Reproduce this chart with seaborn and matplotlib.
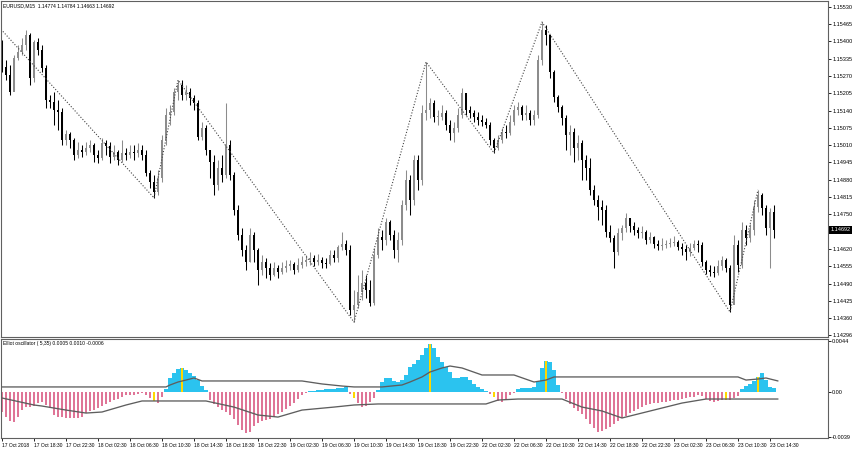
import numpy as np
import matplotlib
matplotlib.use('Agg')
import matplotlib.pyplot as plt
import matplotlib.transforms as mtransforms
import seaborn as sns

# EURUSD M15, drawn as 30-minute candles (open = previous close)
first_open = 1.15394
closes = [
    1.15304, 1.15274, 1.15210, 1.15338, 1.15360, 1.15387, 1.15424, 1.15263, 1.15398, 1.15368,
    1.15300, 1.15180, 1.15172, 1.15142, 1.15135, 1.15030, 1.15052, 1.15030, 1.14973, 1.14992,
    1.14984, 1.14999, 1.15011, 1.14973, 1.14962, 1.15018, 1.15007, 1.14966, 1.14984, 1.14954,
    1.14981, 1.14973, 1.14984, 1.14981, 1.14992, 1.14973, 1.14905, 1.14872, 1.14834, 1.14887,
    1.15030, 1.15124, 1.15135, 1.15210, 1.15236, 1.15199, 1.15210, 1.15188, 1.15169, 1.15041,
    1.15075, 1.14992, 1.14947, 1.14860, 1.14924, 1.14898, 1.15011, 1.14898, 1.14766, 1.14672,
    1.14616, 1.14571, 1.14672, 1.14616, 1.14541, 1.14571, 1.14548, 1.14522, 1.14548, 1.14533,
    1.14548, 1.14556, 1.14563, 1.14541, 1.14560, 1.14571, 1.14578, 1.14586, 1.14571, 1.14578,
    1.14567, 1.14563, 1.14597, 1.14586, 1.14627, 1.14639, 1.14616, 1.14390, 1.14409, 1.14458,
    1.14492, 1.14466, 1.14417, 1.14597, 1.14665, 1.14654, 1.14721, 1.14672, 1.14616, 1.14654,
    1.14785, 1.14879, 1.14804, 1.14954, 1.14879, 1.15131, 1.15142, 1.15169, 1.15116, 1.15116,
    1.15131, 1.15086, 1.15056, 1.15075, 1.15124, 1.15206, 1.15142, 1.15131, 1.15116, 1.15105,
    1.15097, 1.15086, 1.15030, 1.14999, 1.15030, 1.15060, 1.15056, 1.15097, 1.15142, 1.15154,
    1.15124, 1.15131, 1.15105, 1.15124, 1.15330, 1.15443, 1.15424, 1.15285, 1.15191, 1.15154,
    1.15112, 1.15048, 1.15060, 1.14999, 1.15018, 1.14954, 1.14924, 1.14842, 1.14804, 1.14778,
    1.14766, 1.14684, 1.14661, 1.14609, 1.14680, 1.14699, 1.14736, 1.14706, 1.14691, 1.14680,
    1.14684, 1.14654, 1.14665, 1.14639, 1.14631, 1.14635, 1.14639, 1.14642, 1.14646, 1.14627,
    1.14620, 1.14609, 1.14624, 1.14639, 1.14635, 1.14571, 1.14541, 1.14533, 1.14530, 1.14556,
    1.14578, 1.14548, 1.14409, 1.14635, 1.14560, 1.14691, 1.14661, 1.14691, 1.14778, 1.14823,
    1.14774, 1.14699, 1.14759, 1.14692,
]
highs = [
    1.15406, 1.15330, 1.15312, 1.15349, 1.15387, 1.15413, 1.15443, 1.15432, 1.15406, 1.15413,
    1.15387, 1.15312, 1.15199, 1.15210, 1.15180, 1.15150, 1.15067, 1.15060, 1.15037, 1.15022,
    1.15011, 1.15022, 1.15030, 1.15018, 1.14992, 1.15037, 1.15030, 1.15022, 1.15011, 1.14992,
    1.15030, 1.14999, 1.15011, 1.15011, 1.15018, 1.15011, 1.14992, 1.14917, 1.14898, 1.14917,
    1.15048, 1.15150, 1.15161, 1.15225, 1.15255, 1.15255, 1.15236, 1.15225, 1.15199, 1.15180,
    1.15097, 1.15086, 1.14992, 1.14973, 1.14954, 1.14973, 1.15169, 1.15030, 1.14909, 1.14785,
    1.14699, 1.14635, 1.14699, 1.14684, 1.14624, 1.14597, 1.14586, 1.14567, 1.14571, 1.14560,
    1.14571, 1.14578, 1.14578, 1.14571, 1.14586, 1.14593, 1.14597, 1.14609, 1.14597, 1.14601,
    1.14590, 1.14586, 1.14616, 1.14616, 1.14635, 1.14684, 1.14654, 1.14635, 1.14466, 1.14522,
    1.14541, 1.14522, 1.14503, 1.14624, 1.14699, 1.14691, 1.14736, 1.14729, 1.14691, 1.14684,
    1.14804, 1.14917, 1.14898, 1.14973, 1.14973, 1.15161, 1.15323, 1.15188, 1.15180, 1.15142,
    1.15161, 1.15142, 1.15105, 1.15097, 1.15150, 1.15225, 1.15199, 1.15157, 1.15142, 1.15135,
    1.15124, 1.15112, 1.15097, 1.15037, 1.15048, 1.15075, 1.15086, 1.15124, 1.15161, 1.15172,
    1.15161, 1.15161, 1.15142, 1.15142, 1.15349, 1.15473, 1.15462, 1.15424, 1.15293, 1.15199,
    1.15161, 1.15124, 1.15086, 1.15075, 1.15048, 1.15030, 1.14973, 1.14962, 1.14860, 1.14823,
    1.14804, 1.14785, 1.14710, 1.14672, 1.14699, 1.14710, 1.14755, 1.14736, 1.14721, 1.14703,
    1.14706, 1.14691, 1.14684, 1.14669, 1.14654, 1.14661, 1.14654, 1.14661, 1.14669, 1.14654,
    1.14642, 1.14635, 1.14642, 1.14654, 1.14654, 1.14646, 1.14578, 1.14560, 1.14556, 1.14578,
    1.14593, 1.14586, 1.14560, 1.14672, 1.14654, 1.14721, 1.14710, 1.14714, 1.14804, 1.14842,
    1.14830, 1.14785, 1.14774, 1.14784,
]
lows = [
    1.15285, 1.15255, 1.15199, 1.15218, 1.15330, 1.15349, 1.15368, 1.15236, 1.15248, 1.15349,
    1.15285, 1.15150, 1.15150, 1.15086, 1.15067, 1.15011, 1.15011, 1.14999, 1.14954, 1.14962,
    1.14966, 1.14973, 1.14984, 1.14947, 1.14943, 1.14954, 1.14973, 1.14943, 1.14954, 1.14936,
    1.14947, 1.14954, 1.14962, 1.14954, 1.14966, 1.14954, 1.14894, 1.14849, 1.14812, 1.14823,
    1.14872, 1.15011, 1.15086, 1.15124, 1.15180, 1.15180, 1.15180, 1.15161, 1.15142, 1.15030,
    1.15030, 1.14973, 1.14887, 1.14823, 1.14842, 1.14872, 1.14887, 1.14879, 1.14748, 1.14654,
    1.14593, 1.14541, 1.14571, 1.14571, 1.14484, 1.14522, 1.14511, 1.14503, 1.14518, 1.14511,
    1.14526, 1.14533, 1.14541, 1.14526, 1.14533, 1.14548, 1.14556, 1.14560, 1.14556, 1.14560,
    1.14548, 1.14548, 1.14560, 1.14571, 1.14571, 1.14616, 1.14597, 1.14372, 1.14345, 1.14398,
    1.14428, 1.14435, 1.14405, 1.14409, 1.14586, 1.14616, 1.14635, 1.14654, 1.14586, 1.14571,
    1.14635, 1.14766, 1.14748, 1.14785, 1.14842, 1.14860, 1.15105, 1.15112, 1.15097, 1.15086,
    1.15105, 1.15067, 1.15030, 1.15022, 1.15060, 1.15112, 1.15124, 1.15112, 1.15097, 1.15086,
    1.15082, 1.15075, 1.15011, 1.14981, 1.14992, 1.15018, 1.15037, 1.15048, 1.15086, 1.15124,
    1.15105, 1.15105, 1.15086, 1.15086, 1.15112, 1.15312, 1.15387, 1.15263, 1.15172, 1.15135,
    1.15086, 1.14992, 1.14973, 1.14947, 1.14954, 1.14879, 1.14879, 1.14823, 1.14785, 1.14729,
    1.14710, 1.14665, 1.14646, 1.14548, 1.14597, 1.14654, 1.14684, 1.14684, 1.14672, 1.14661,
    1.14661, 1.14639, 1.14642, 1.14624, 1.14616, 1.14616, 1.14624, 1.14627, 1.14631, 1.14616,
    1.14597, 1.14578, 1.14593, 1.14616, 1.14609, 1.14556, 1.14526, 1.14518, 1.14514, 1.14522,
    1.14541, 1.14533, 1.14383, 1.14466, 1.14533, 1.14548, 1.14635, 1.14646, 1.14672, 1.14759,
    1.14748, 1.14672, 1.14548, 1.14663,
]

# zigzag pivots (candle index, price)
zz_idx = [-1, 38, 44, 88, 106, 123, 135, 182, 189]
zz_price = [1.15458, 1.14812, 1.15255, 1.14345, 1.15323, 1.14981, 1.15473, 1.14383, 1.14842]

# Elliot oscillator (5,35) histogram
osc = [
    -0.00174, -0.00218, -0.00252, -0.00261, -0.00218, -0.00157, -0.00131, -0.00131, -0.00122, -0.00096,
    -0.00087, -0.00113, -0.00139, -0.00200, -0.00218, -0.00218, -0.00226, -0.00226, -0.00226, -0.00226,
    -0.00218, -0.00183, -0.00165, -0.00157, -0.00139, -0.00122, -0.00104, -0.00087, -0.00070, -0.00061,
    -0.00044, -0.00026, -0.00026, -0.00026, -0.00017, -0.00009, -0.00026, -0.00052, -0.00078, -0.00096,
    -0.00044, 0.00026, 0.00122, 0.00165, 0.00200, 0.00209, 0.00191, 0.00165, 0.00139, 0.00104,
    0.00052, 0.00017, -0.00070, -0.00104, -0.00131, -0.00157, -0.00174, -0.00200, -0.00235, -0.00287,
    -0.00331, -0.00357, -0.00348, -0.00296, -0.00270, -0.00252, -0.00244, -0.00235, -0.00218, -0.00191,
    -0.00174, -0.00148, -0.00122, -0.00096, -0.00061, -0.00026, -0.00009, 0.00009, 0.00009, 0.00017,
    0.00017, 0.00026, 0.00026, 0.00026, 0.00035, 0.00035, 0.00044, -0.00017, -0.00052, -0.00096,
    -0.00131, -0.00122, -0.00087, -0.00052, 0.00017, 0.00087, 0.00122, 0.00122, 0.00096, 0.00087,
    0.00104, 0.00148, 0.00218, 0.00244, 0.00278, 0.00322, 0.00383, 0.00418, 0.00383, 0.00305,
    0.00261, 0.00218, 0.00174, 0.00122, 0.00122, 0.00131, 0.00131, 0.00104, 0.00070, 0.00044,
    0.00026, 0.00009, -0.00017, -0.00044, -0.00078, -0.00087, -0.00061, -0.00026, -0.00009, 0.00026,
    0.00035, 0.00035, 0.00035, 0.00044, 0.00096, 0.00209, 0.00270, 0.00261, 0.00191, 0.00061,
    -0.00009, -0.00061, -0.00104, -0.00139, -0.00165, -0.00191, -0.00235, -0.00278, -0.00313, -0.00348,
    -0.00339, -0.00322, -0.00305, -0.00278, -0.00252, -0.00226, -0.00209, -0.00183, -0.00165, -0.00148,
    -0.00131, -0.00113, -0.00104, -0.00096, -0.00096, -0.00087, -0.00087, -0.00078, -0.00070, -0.00070,
    -0.00061, -0.00052, -0.00044, -0.00044, -0.00026, -0.00035, -0.00061, -0.00078, -0.00087, -0.00078,
    -0.00070, -0.00070, -0.00070, -0.00052, -0.00035, 0.00026, 0.00052, 0.00070, 0.00096, 0.00131,
    0.00165, 0.00104, 0.00044, 0.00035,
]
signal_idx = [38, 45, 88, 107, 123, 136, 181, 189]

# band lines of the oscillator (candle index, value)
upper_x = [-1, 41, 42, 44, 46, 48, 50, 75, 80, 85, 88, 95, 100, 102, 105, 107, 110, 112,
           115, 120, 128, 133, 136, 138, 184, 186, 189, 191, 194]
upper_v = [0.00044, 0.00044, 0.00061, 0.00087, 0.00104, 0.00122, 0.00096, 0.00096, 0.00070,
           0.00052, 0.00044, 0.00044, 0.00061, 0.00087, 0.00131, 0.00174, 0.00209, 0.00226,
           0.00209, 0.00148, 0.00148, 0.00087, 0.00104, 0.00131, 0.00131, 0.00104, 0.00113,
           0.00122, 0.00096]
lower_x = [-1, 0, 8, 10, 16, 21, 25, 31, 35, 51, 58, 64, 69, 75, 83, 88, 94, 121, 124,
           129, 140, 145, 150, 155, 161, 170, 176, 194]
lower_v = [-0.00044, -0.00052, -0.00113, -0.00122, -0.00157, -0.00183, -0.00174, -0.00113,
           -0.00078, -0.00078, -0.00131, -0.00200, -0.00218, -0.00157, -0.00131, -0.00113,
           -0.00104, -0.00104, -0.00070, -0.00061, -0.00061, -0.00131, -0.00165, -0.00226,
           -0.00174, -0.00096, -0.00061, -0.00061]

price_ticks = [1.15530, 1.15465, 1.15400, 1.15335, 1.15270, 1.15205, 1.15140, 1.15075,
               1.15010, 1.14945, 1.14880, 1.14815, 1.14750, 1.14620, 1.14555, 1.14490,
               1.14425, 1.14360, 1.14296]
time_labels = ['17 Oct 2018', '17 Oct 18:30', '17 Oct 22:30', '18 Oct 02:30', '18 Oct 06:30',
               '18 Oct 10:30', '18 Oct 14:30', '18 Oct 18:30', '18 Oct 22:30', '19 Oct 02:30',
               '19 Oct 06:30', '19 Oct 10:30', '19 Oct 14:30', '19 Oct 18:30', '19 Oct 22:30',
               '22 Oct 02:30', '22 Oct 06:30', '22 Oct 10:30', '22 Oct 14:30', '22 Oct 18:30',
               '22 Oct 22:30', '23 Oct 02:30', '23 Oct 06:30', '23 Oct 10:30', '23 Oct 14:30']
last_price = 1.14692

sns.set_theme(style='white')
plt.rcParams['font.family'] = ['Liberation Sans', 'DejaVu Sans']

fig = plt.figure(figsize=(8.52, 4.5), dpi=100)
ax = fig.add_axes([1 / 852, 1 - 337 / 450, 827 / 852, 336 / 450])
ax2 = fig.add_axes([1 / 852, 1 - 438 / 450, 827 / 852, 99 / 450])

closes = np.array(closes)
highs = np.array(highs)
lows = np.array(lows)
opens = np.r_[first_open, closes[:-1]]
idx = np.arange(len(closes))
up = closes >= opens
ccol = np.where(up, '#8c8c8c', '#000000')

# candles
ax.vlines(idx, lows, highs, colors=ccol, lw=0.75)
body = np.maximum(np.abs(closes - opens), 0.00003)
ax.bar(idx, body, bottom=np.minimum(opens, closes), width=0.5, color=ccol, linewidth=0)

# zigzag
sns.lineplot(x=zz_idx, y=zz_price, ax=ax, color='#444444', lw=0.8,
             linestyle=(0, (1, 1.6)), sort=False)

ax.set_xlim(-0.25, 206.5)
ax.set_ylim(1.14289, 1.15552)
ax.set_xticks([])
ax.yaxis.tick_right()
ax.set_yticks(price_ticks)
ax.set_yticklabels([f'{v:.5f}' for v in price_ticks])
ax.tick_params(axis='y', right=True, left=False, labelright=True, labelleft=False,
               length=2, width=0.6, pad=1, labelsize=4.0, colors='black')
trans = mtransforms.blended_transform_factory(ax.transAxes, ax.transData)
ax.text(1.0028, last_price, f'{last_price:.5f}', transform=trans, ha='left', va='center',
        fontsize=4.0, color='white',
        bbox=dict(boxstyle='square,pad=0.25', fc='black', ec='none'))
ax.text(0.003, 0.993, 'EURUSD,M15  1.14774 1.14784 1.14663 1.14692', transform=ax.transAxes,
        ha='left', va='top', fontsize=3.6, color='black')

# oscillator: blue bars nearly solid, pink bars striped
osc = np.array(osc)
pos = osc >= 0
ax2.bar(idx[pos], osc[pos], width=0.8, color='#2bc3ef', linewidth=0)
ax2.bar(idx[~pos], osc[~pos], width=0.5, color='#df7597', linewidth=0)
ax2.bar(idx[signal_idx], osc[signal_idx], width=0.5, color='#ffd700', linewidth=0)
sns.lineplot(x=upper_x, y=upper_v, ax=ax2, color='#5e5e5e', lw=0.95, sort=False)
sns.lineplot(x=lower_x, y=lower_v, ax=ax2, color='#5e5e5e', lw=0.95, sort=False)

ax2.set_xlim(-0.25, 206.5)
ax2.set_ylim(-0.0040, 0.00461)
ax2.yaxis.tick_right()
ax2.set_yticks([0.0044, 0.0, -0.0039])
ax2.set_yticklabels(['0.0044', '0.00', '-0.0039'])
ax2.tick_params(axis='y', right=True, left=False, labelright=True, labelleft=False,
                length=2, width=0.6, pad=1, labelsize=4.0, colors='black')
ax2.set_xticks(idx[::8])
ax2.set_xticklabels(time_labels)
ax2.tick_params(axis='x', bottom=True, length=2.5, width=0.6, pad=1, labelsize=3.6,
                colors='black')
for lab in ax2.get_xticklabels():
    lab.set_ha('left')
ax2.text(0.003, 0.975, 'Elliot oscillator ( 5,35) 0.0005 0.0010 -0.0006',
         transform=ax2.transAxes, ha='left', va='top', fontsize=3.6, color='black')

for a in (ax, ax2):
    for s in a.spines.values():
        s.set_color('#606060')
        s.set_linewidth(0.8)
    a.set_xlabel('')
    a.set_ylabel('')

fig.savefig('out.png', dpi=100)
